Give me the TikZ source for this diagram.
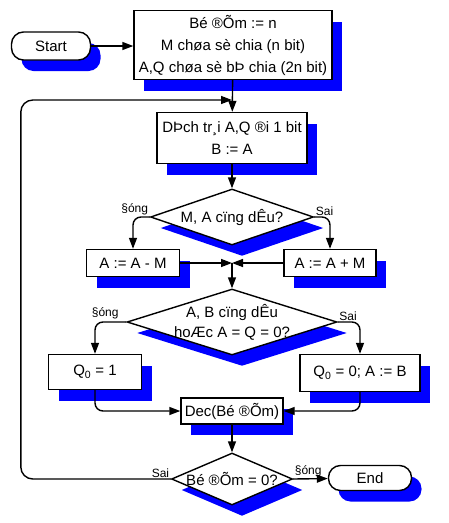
\documentclass[tikz,border=0pt]{standalone}
\usepackage{fontspec}
\setmainfont{Liberation Sans}
\usetikzlibrary{positioning,shapes.geometric,arrows.meta,shadows}

\begin{document}
\begin{tikzpicture}[
            x=1pt, y=-1pt,
            line width=1.4pt,
            >={Triangle[length=11pt,width=8pt]},
            every node/.style={ font=\fontsize{15}{22}\selectfont, align=center },
            blueshadow/.style={ drop shadow={shadow xshift=10pt, shadow yshift=-11pt, fill=blue, opacity=1} },
            box/.style={ draw, fill=white, blueshadow, inner sep=2pt },
            term/.style={ draw, fill=white, blueshadow, rounded corners=12pt },
            decision/.style={ draw, fill=white, blueshadow, diamond, inner sep=0pt },
            answer/.style={ font=\fontsize{12}{14}\selectfont, inner sep=1pt }
        ]
        \useasboundingbox (0,0) rectangle (449,523);

        \node[term, minimum width=79pt, minimum height=28pt] (start) at (51,46) {Start};
        \node[box, minimum width=198pt, minimum height=69pt] (init) at (233,45)
            {Bé ®Õm := n\\M chøa sè chia (n bit)\\A,Q chøa sè bÞ chia (2n bit)};
        \node[box, minimum width=150pt, minimum height=51pt] (shift) at (232,138)
            {DÞch tr¸i A,Q ®i 1 bit\\B := A};
        \coordinate (loop) at (232,100);

        % first test
        \node[decision, minimum width=163pt, minimum height=56pt] (sign1) at (232,217) {};
        \node (sign1txt) at (sign1) {M, A cïng dÊu?};
        \node[box, minimum width=93pt, minimum height=27pt] (sub) at (133,263) {A := A - M};
        \node[box, minimum width=92pt, minimum height=27pt] (add) at (330,263) {A := A + M};
        \coordinate (merge) at (232,263);

        % second test
        \node[decision, minimum width=210pt, minimum height=66pt] (sign2) at (232,322) {};
        \node[font=\fontsize{15}{20}\selectfont] (sign2txt) at (sign2) {A, B cïng dÊu\\hoÆc A = Q = 0?};
        \node[box, minimum width=93pt, minimum height=35pt] (qone) at (95,372) {Q\textsubscript{0} = 1};
        \node[box, minimum width=120pt, minimum height=37pt] (qzero) at (360,373) {Q\textsubscript{0} = 0; A := B};
        \node[box, minimum width=102pt, minimum height=26pt] (dec) at (232,411) {Dec(Bé ®Õm)};

        % counter test
        \node[decision, minimum width=121pt, minimum height=52pt] (zero) at (232,479) {};
        \node (zerotxt) at (zero) {Bé ®Õm = 0?};
        \node[term, minimum width=83pt, minimum height=25pt] (end) at (370,478) {End};

        \draw[->] (start.east) -- (start.east -| init.west);
        \draw[->] (init) -- (shift);
        \draw[->] (shift) -- (sign1);
        \draw[->, rounded corners=8pt] (sign1.west) node[answer, above left] (yes1) {§óng} -| (sub);
        \draw[->, rounded corners=8pt] (sign1.east) node[answer, above right] (no1) {Sai} -| (add);
        \draw[->] (sub) -- (merge);
        \draw[->] (add) -- (merge);
        \draw[->] (merge) -- (sign2);
        \draw[->, rounded corners=8pt] (sign2.west) node[answer, above left=1pt and 6pt] (yes2) {§óng} -| (qone);
        \draw[->, rounded corners=8pt] (sign2.east) node[answer, above right] (no2) {Sai} -| (qzero);
        \draw[->, rounded corners=8pt] (qone) |- (dec);
        \draw[->, rounded corners=8pt] (qzero) |- (dec);
        \draw[->] (dec) -- (zero);
        \draw[->] (zero.east) node[answer, above right] (yes3) {§óng} -- (end);
        \draw[->, rounded corners=12pt] (zero.west) node[answer, above left] (no3) {Sai} -- ++(-150,0) |- (loop);
    \end{tikzpicture}
\end{document}
